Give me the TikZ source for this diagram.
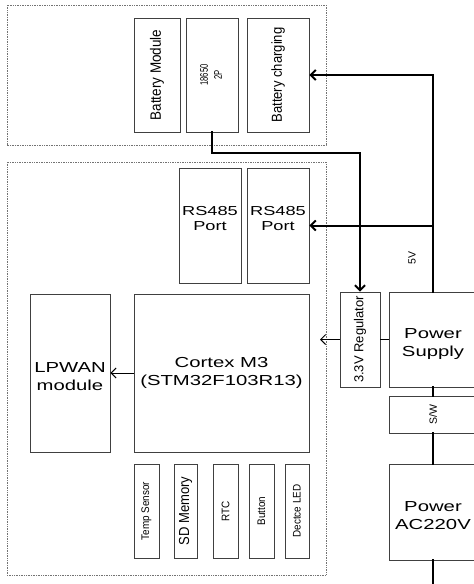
\documentclass[tikz,border=0pt]{standalone}
\usepackage{fontspec}
\setmainfont{Liberation Sans}
\newfontfamily\widefont[FakeStretch=1.4]{Liberation Sans}
\newfontfamily\narrowfont[FakeStretch=0.9]{Liberation Sans}
\newfontfamily\slimfont[FakeStretch=0.7]{Liberation Sans}
\usetikzlibrary{arrows.meta}
\begin{document}
\begin{tikzpicture}[x=1pt, y=-1pt,
    block/.style={draw=black!75, line width=0.8pt, inner sep=0pt, fill=white},
    group/.style={draw=black!55, densely dotted, line width=0.7pt},
    power/.style={line width=2pt, line cap=rect},
    signal/.style={line width=1pt},
    tip/.style={-{Straight Barb[length=5pt, width=10pt]}},
    big/.style={font=\widefont\fontsize{14.5}{18}\selectfont, align=center},
    side/.style={font=\narrowfont\fontsize{14.5}{17}\selectfont},
    small/.style={font=\narrowfont\fontsize{11}{13}\selectfont}]
    \clip (0,0) rectangle (474,584);
    \fill[white] (0,0) rectangle (474,584);
    % the two groups
    \draw[group] (7,5) rectangle (326,145);
    \draw[group] (7,162) rectangle (326,575);
    % battery side
    \node[block, side, font=\narrowfont\fontsize{15}{17}\selectfont, minimum width=46, minimum height=114] (bmod) at (157,75) {\rotatebox{90}{Battery Module}};
    \node[block, minimum width=52, minimum height=114] (cell) at (212,75)
        {\rotatebox{90}{\slimfont\fontsize{11}{14}\selectfont\begin{tabular}{@{}c@{}}18650\\2P\end{tabular}}};
    \node[block, side, minimum width=62, minimum height=114] (chg) at (278,75) {\rotatebox{90}{Battery charging}};
    % board
    \node[block, big, font=\widefont\fontsize{13}{15}\selectfont, minimum width=62, minimum height=115] (rsa) at (210,225.5) {RS485\\Port\\[0pt]};
    \node[block, big, font=\widefont\fontsize{13}{15}\selectfont, minimum width=62, minimum height=115] (rsb) at (278,225.5) {RS485\\Port\\[0pt]};
    \node[block, big, minimum width=175, minimum height=158] (mcu) at (221.5,373) {Cortex M3\\(STM32F103R13)};
    \node[block, big, minimum width=80, minimum height=158] (lpwan) at (70,373) {LPWAN\\module\\[-26pt]};
    \node[block, small, minimum width=25, minimum height=94] (temp) at (146.5,511) {\rotatebox{90}{Temp Sensor}};
    \node[block, side, minimum width=23, minimum height=94] (sd) at (185.5,511) {\rotatebox{90}{SD Memory}};
    \node[block, small, minimum width=25, minimum height=94] (rtc) at (225.5,511) {\rotatebox{90}{RTC}};
    \node[block, small, minimum width=25, minimum height=94] (btn) at (261.5,511) {\rotatebox{90}{Button}};
    \node[block, small, minimum width=24, minimum height=94] (led) at (297,511) {\rotatebox{90}{Dectce LED}};
    % supply chain
    \node[block, font=\fontsize{13}{15}\selectfont, minimum width=40, minimum height=95] (reg) at (360,339.5) {\rotatebox{90}{3.3V Regulator}};
    \node[block, big, minimum width=88, minimum height=95] (psu) at (433,339.5) {Power\\Supply\\[-25pt]};
    \node[block, font=\fontsize{10.5}{12}\selectfont, minimum width=88, minimum height=37] (sw) at (433,414.5) {\rotatebox{90}{S/W}};
    \node[block, big, minimum width=88, minimum height=96] (ac) at (433,512) {Power\\AC220V\\[-26pt]};
    \coordinate (mcuin) at (320,339.5);
    \coordinate (mains) at (433,590);

    \draw[power, tip] (psu.north) |- (chg.east);
    \draw[power, tip] (psu.north |- rsb.east) -- (rsb.east);
    \draw[power, tip] (cell.south) -- ++(0,21) -| (reg.north);
    \draw[power] (psu.south) -- (sw.north);
    \draw[power] (sw.south) -- (ac.north);
    \draw[power] (ac.south) -- (mains);
    \draw[signal] (reg.east) -- (psu.west);
    \draw[signal, tip] (reg.west) -- (mcuin);
    \draw[signal, tip] (mcu.west) -- (lpwan.east);
    \node[font=\fontsize{10.5}{12}\selectfont] (vfive) at (412,258) {\rotatebox{90}{5V}};
\end{tikzpicture}
\end{document}
